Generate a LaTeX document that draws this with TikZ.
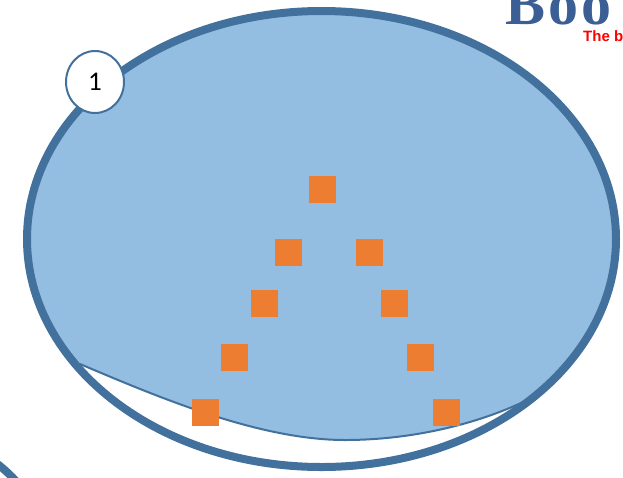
\documentclass[tikz,border=0pt]{standalone}
\usepackage{fontspec}
\usetikzlibrary{shapes.geometric}
\setmainfont{Liberation Serif}
\newfontfamily\calibf{Carlito}
\newfontfamily\arialf{Liberation Sans}
\newfontfamily\titlef[LetterSpace=5]{Liberation Serif}
\definecolor{edgeblue}{HTML}{41719C}
\definecolor{fillblue}{HTML}{94BDE2}
\definecolor{sqorange}{HTML}{ED7D31}
\definecolor{titleblue}{HTML}{3B5E94}
\begin{document}
\begin{tikzpicture}[x=1pt,y=-1pt,
  sq/.style={fill=sqorange,minimum size=27pt,inner sep=0pt,outer sep=0pt},
  badge/.style={ellipse,draw=edgeblue,line width=2pt,fill=white,minimum width=58pt,minimum height=62pt,inner sep=0pt,font=\calibf\fontsize{27}{27}\selectfont},
  bigedge/.style={draw=edgeblue,line width=8pt},
  thinedge/.style={draw=edgeblue,line width=2pt}]
\useasboundingbox (0,0) rectangle (623,477);
% blob fill
\begin{scope}
  \clip (321.5,239) ellipse [x radius=294.5, y radius=228];
  \fill[fillblue] (80,364) .. controls (160,398) and (260,440) .. (345,440)
     .. controls (420,440) and (490,420) .. (535,396) -- (640,396) -- (640,-10) -- (-10,-10) -- (-10,364) -- cycle;
\end{scope}
\coordinate (bl) at (80,364);
\coordinate (bm) at (345,440);
\coordinate (br) at (535,396);
\draw[thinedge] (bl) .. controls (160,398) and (260,440) .. (bm)
     .. controls (420,440) and (490,420) .. (br);
% big ellipse outline
\draw[bigedge] (321.5,239) ellipse [x radius=294.5, y radius=228];
% partial arc bottom-left
\coordinate (a1) at (-8,460);
\coordinate (a2) at (22,487);
\draw[bigedge] (a1) .. controls (5,469) and (13,478) .. (a2);
% badge
\node[badge] (one) at (95,82) {1};
% squares
\node[sq] (s1) at (322.5,189.5) {};
\node[sq] (s2) at (288.5,252.5) {};
\node[sq] (s3) at (369.5,252.5) {};
\node[sq] (s4) at (264,303.5) {};
\node[sq] (s5) at (394,303.5) {};
\node[sq] (s6) at (234,357.5) {};
\node[sq] (s7) at (420,357.5) {};
\node[sq] (s8) at (205.5,412.5) {};
\node[sq] (s9) at (446,412.5) {};
% title texts (cut at the right edge, as in the reference)
\begin{scope}
  \clip (0,0) rectangle (623,477);
  \node[anchor=base west,inner sep=0pt,text=titleblue,font=\titlef\bfseries\fontsize{60}{60}\selectfont] (title) at (505,24) {Boo};
  \node[anchor=base west,inner sep=0pt,text=red,font=\arialf\bfseries\fontsize{15}{15}\selectfont] (sub) at (583,41) {The b};
\end{scope}
\end{tikzpicture}
\end{document}
